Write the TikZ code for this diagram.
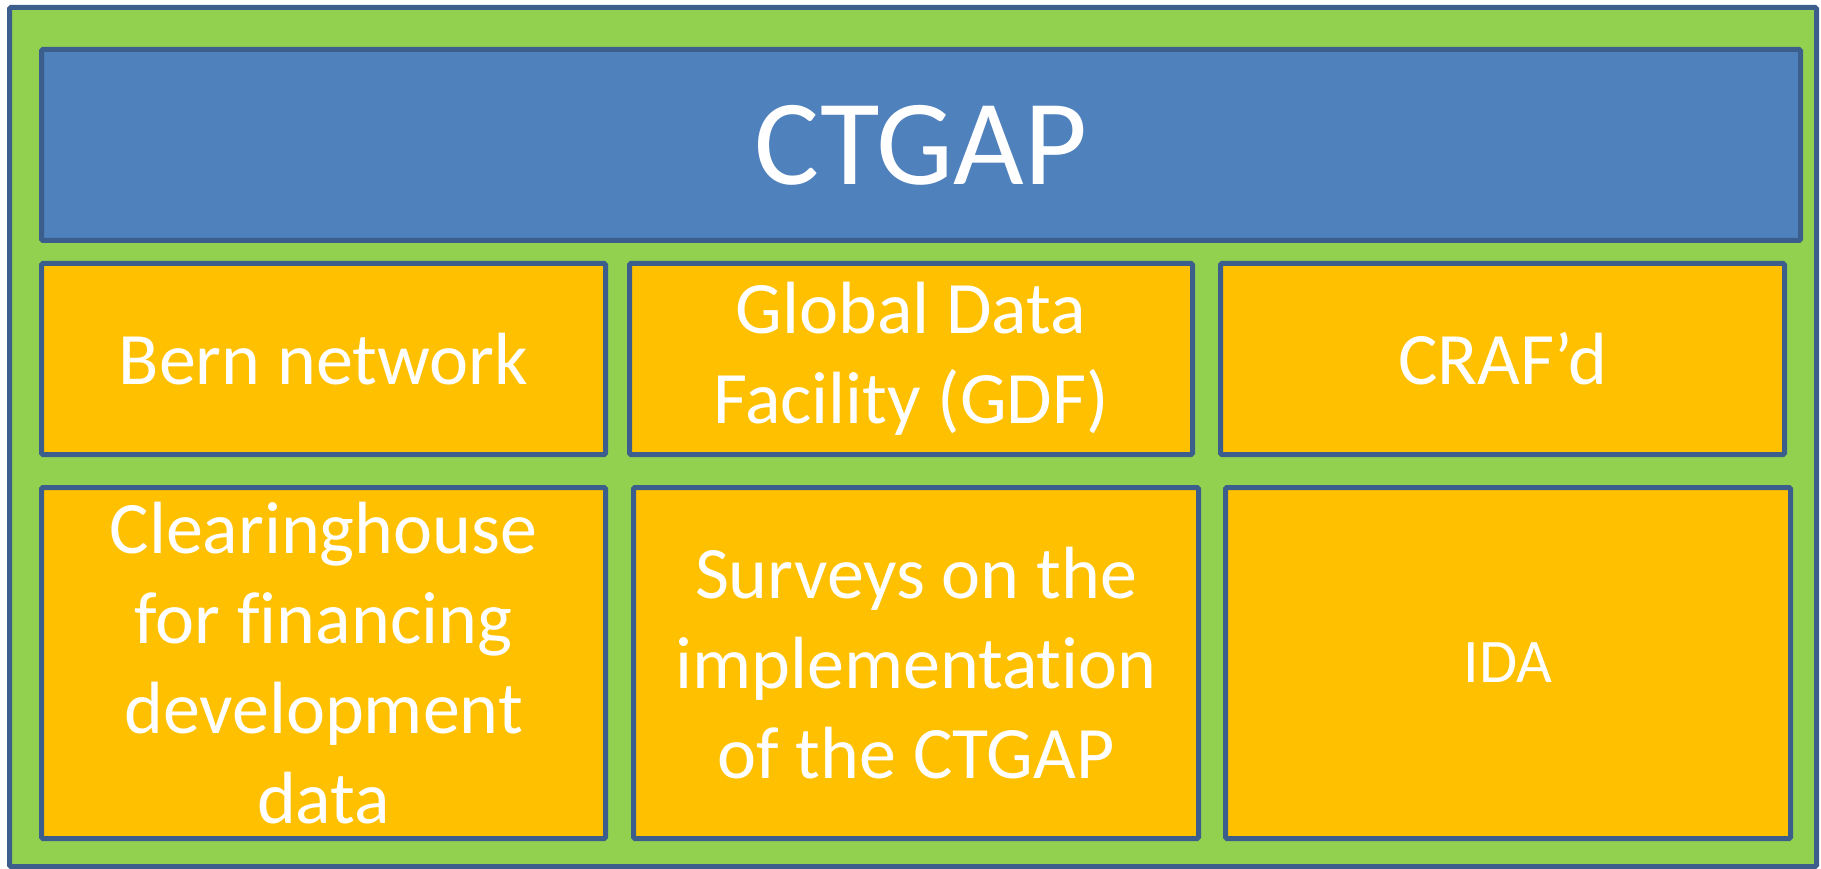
\documentclass[tikz,border=0pt]{standalone}
\usepackage{fontspec}
\setmainfont{Carlito}[RawFeature={-liga;-clig;-dlig}]
\definecolor{bggreen}{HTML}{92D050}
\definecolor{hdblue}{HTML}{4F81BD}
\definecolor{cellorange}{HTML}{FFC000}
\definecolor{edgeblue}{HTML}{3B5E8C}
\tikzset{
  frame/.style={draw=edgeblue, line width=5pt, rounded corners=1.5pt, inner sep=0pt, outer sep=0pt},
  cell/.style={frame, fill=cellorange, text=white, align=center,
    font=\fontsize{74}{90}\selectfont},
}
\begin{document}
\begin{tikzpicture}[x=1pt,y=-1pt]
\useasboundingbox (0,0) rectangle (1821,869);
\node[frame, fill=bggreen, minimum width=1807pt, minimum height=859pt] (outer) at (913,437) {};
\node[frame, fill=hdblue, text=white, minimum width=1759pt, minimum height=191pt,
  font=\fontsize{122}{146}\selectfont] (ctgap) at (921,145) {CTGAP};
% row 1
\node[cell, minimum width=564pt, minimum height=191pt] (bern) at (323.5,359) {Bern network};
\node[cell, minimum width=563pt, minimum height=191pt] (gdf) at (911,359) {Global Data\\Facility (GDF)};
\node[cell, minimum width=564pt, minimum height=191pt] (craf) at (1502.5,359) {CRAF’d};
% row 2
\node[cell, minimum width=564pt, minimum height=351pt] (clear) at (323.5,663) {Clearinghouse\\for f\kern0pt inancing\\development\\data};
\node[cell, minimum width=565pt, minimum height=351pt] (surveys) at (916,663) {Surveys on the\\implementat\kern0pt ion\\of the CTGAP};
\node[cell, minimum width=565pt, minimum height=351pt, font=\fontsize{62}{76}\selectfont] (ida) at (1508,663) {IDA};
\end{tikzpicture}
\end{document}
